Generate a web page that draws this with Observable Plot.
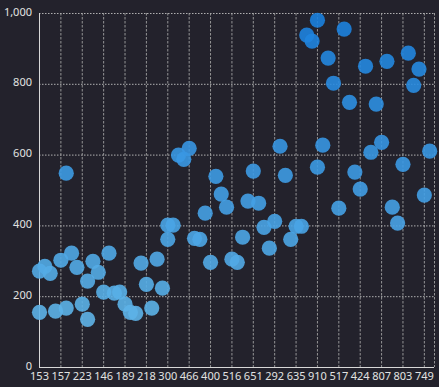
<!DOCTYPE html>
<html><head><meta charset="utf-8">
<script src="https://cdn.jsdelivr.net/npm/d3@7"></script>
<script src="https://cdn.jsdelivr.net/npm/@observablehq/plot@0.6"></script>
<style>
html,body{margin:0;padding:0;background:#23222c;}
#chart svg{display:block;}
</style></head><body><div id="chart"></div>
<script>
// Category labels shown on the x axis (every 4th category)
const xLabels = ["153","157","223","146","189","218","300","466","400","516","651","292","635","910","517","424","807","803","749"];
// Point category index along the x axis
const xIndex = [0,0,1,2,3,4,5,5,6,7,8,9,9,10,11,12,13,14,15,16,17,18,19,20,21,22,23,24,24,25,
  26,27,28,29,30,31,32,33,34,35,36,37,38,39,40,41,42,43,44,45,46,47,48,49,50,51,52,52,53,54,
  55,56,57,58,59,60,61,62,63,64,65,66,67,68,69,70,71,72,73];
// Point values
const yValues = [272,156,286,266,159,303,168,549,323,283,179,136,244,300,269,213,323,210,213,179,
  156,153,295,235,168,306,224,362,402,402,600,588,619,365,362,436,297,540,490,453,306,297,368,470,
  555,464,396,337,413,625,543,362,399,399,939,922,981,566,628,874,803,450,956,749,552,504,851,608,
  744,636,865,453,408,574,888,797,843,487,611];
const yTicks = [0,200,400,600,800,1000];
const xMax = 73.9;

const points = xIndex.map((x, i) => ({x, y: yValues[i]}));
const xTicks = xLabels.map((_, i) => i * 4);

const chart = Plot.plot({
  width: 439, height: 387,
  marginLeft: 39, marginRight: 5, marginTop: 13, marginBottom: 20,
  style: {background: "#23222c", color: "#e2e2e2", fontFamily: "'Noto Sans', sans-serif", fontSize: "11px"},
  x: {type: "linear", domain: [0, xMax], label: null},
  y: {domain: [0, 1000], label: null},
  color: {type: "linear", domain: [130, 990], range: ["#5fb4e8", "#1a80de"]},
  marks: [
    Plot.ruleY(yTicks.slice(1), {stroke: "#c8c8c8", strokeDasharray: "1.5,1.5", strokeOpacity: 0.85}),
    Plot.ruleX([...xTicks.slice(1), xMax], {stroke: "#a8a8a8", strokeDasharray: "2.5,1.5", strokeOpacity: 0.85}),
    Plot.ruleX([0], {stroke: "#d8d8d8"}),
    Plot.ruleY([0], {stroke: "#d8d8d8", strokeWidth: 1.2}),
    Plot.dot(points, {x: "x", y: "y", r: 7.6, fill: "y", fillOpacity: 0.9, stroke: null}),
    Plot.axisX(xTicks, {tickSize: 0, tickPadding: 5, label: null, tickFormat: (d) => xLabels[d / 4]}),
    Plot.axisY(yTicks, {tickSize: 0, tickPadding: 7.5, label: null, dy: -1.5, tickFormat: d3.format(",")})
  ]
});
document.getElementById("chart").append(chart);
</script>
</body></html>
